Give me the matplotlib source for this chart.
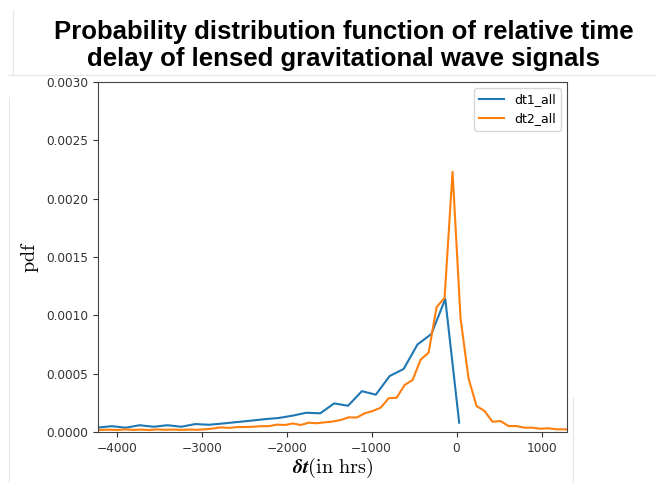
import matplotlib
matplotlib.use("Agg")
import matplotlib.pyplot as plt
from matplotlib.lines import Line2D

# relative time delay (hrs) and pdf values
dt1_x = [-4220, -4057, -3893, -3730, -3566, -3403, -3239, -3076, -2912,
         -2749, -2585, -2422, -2258, -2095, -1931, -1768, -1604, -1441,
         -1277, -1114, -950, -787, -623, -460, -296, -133, 31]
dt1_y = [0.000038, 0.000050, 0.000037, 0.000058, 0.000045, 0.000058,
         0.000045, 0.000068, 0.000062, 0.000073, 0.000085, 0.000097,
         0.000110, 0.000120, 0.000140, 0.000165, 0.000160, 0.000245,
         0.000225, 0.000350, 0.000320, 0.000480, 0.000540, 0.000750,
         0.000840, 0.001140, 0.000080]

dt2_x = [-4277, -4183, -4089, -3995, -3901, -3807, -3713, -3619, -3525,
         -3431, -3337, -3243, -3149, -3055, -2961, -2867, -2773, -2679,
         -2585, -2491, -2397, -2303, -2209, -2115, -2021, -1927, -1833,
         -1739, -1645, -1551, -1457, -1363, -1269, -1175, -1081, -987,
         -893, -799, -705, -611, -517, -423, -329, -235, -141, -47,
         47, 141, 235, 329, 423, 517, 611, 705, 799, 893, 987, 1081,
         1175, 1269, 1363]
dt2_y = [0.000020, 0.000018, 0.000020, 0.000017, 0.000022, 0.000018,
         0.000021, 0.000017, 0.000022, 0.000019, 0.000021, 0.000018,
         0.000021, 0.000019, 0.000023, 0.000030, 0.000040, 0.000035,
         0.000042, 0.000043, 0.000045, 0.000050, 0.000050, 0.000063,
         0.000060, 0.000073, 0.000060, 0.000080, 0.000075, 0.000083,
         0.000090, 0.000103, 0.000126, 0.000124, 0.000160, 0.000180,
         0.000208, 0.000289, 0.000294, 0.000403, 0.000446, 0.000620,
         0.000680, 0.001070, 0.001150, 0.002230, 0.000975, 0.000460,
         0.000223, 0.000180, 0.000088, 0.000094, 0.000051, 0.000051,
         0.000037, 0.000037, 0.000028, 0.000032, 0.000023, 0.000023,
         0.000020]

x_ticks = [-4000, -3000, -2000, -1000, 0, 1000]
y_ticks = [0.0, 0.0005, 0.0010, 0.0015, 0.0020, 0.0025, 0.0030]

plt.rcParams["mathtext.fontset"] = "cm"

W, H = 656, 483
fig = plt.figure(figsize=(W / 100, H / 100), dpi=100)
ax = fig.add_axes([98 / W, 51 / H, 469 / W, 350 / H])

ax.plot(dt1_x, dt1_y, color="#1f77b4", linewidth=1.5, label="dt1_all")
ax.plot(dt2_x, dt2_y, color="#ff7f0e", linewidth=1.5, label="dt2_all")

ax.set_xlim(-4220, 1300)
ax.set_ylim(0, 0.003)
ax.set_xticks(x_ticks)
ax.set_yticks(y_ticks)
ax.set_yticklabels([f"{v:.4f}" for v in y_ticks])
ax.tick_params(labelsize=8.7, colors="#333333", length=3.5)
for sp in ax.spines.values():
    sp.set_color("#444444")

ax.set_xlabel(r"$\boldsymbol{\delta t}(\mathrm{in\ hrs})$", fontsize=14.5, labelpad=1)
ax.set_ylabel(r"$\mathrm{pdf}$", fontsize=14.5, labelpad=4)
ax.legend(loc="upper right", fontsize=9)

fig.text(0.524, 0.905,
         "Probability distribution function of relative time\n"
         "delay of lensed gravitational wave signals",
         ha="center", va="center", fontsize=18.5, fontweight="bold",
         family="Liberation Sans", linespacing=1.15)

# faint frame edges left over from the screenshot
for xs, ys in [([8, W], [H - 75, H - 75]), ([9, 9], [0, H - 97]),
               ([13, 13], [H - 74, H - 10]), ([573, 573], [0, H - 398])]:
    fig.add_artist(Line2D([x / W for x in xs], [y / H for y in ys],
                          color="#e6e6e6", linewidth=0.8))

fig.savefig("out.png", dpi=100)
